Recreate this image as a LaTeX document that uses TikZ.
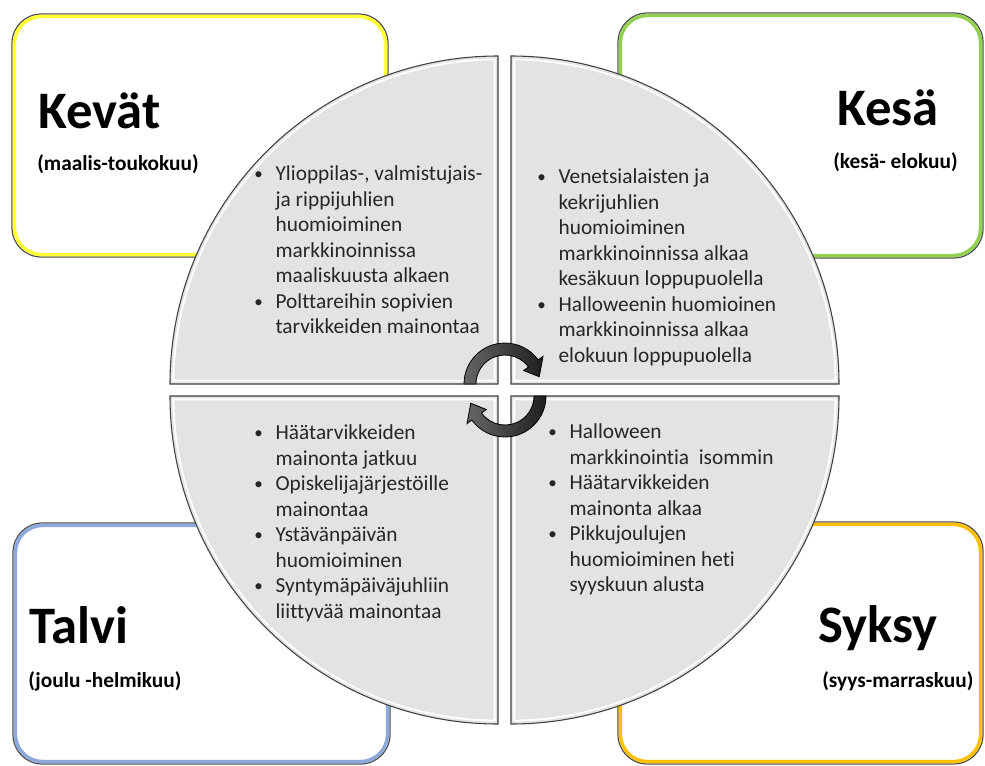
\documentclass[tikz,border=0pt]{standalone}
\usepackage{fontspec}
\setmainfont{Carlito}[Ligatures={NoCommon}]
\usetikzlibrary{calc}

\definecolor{kevatyellow}{HTML}{FFFF33}
\definecolor{kesagreen}{HTML}{92D050}
\definecolor{talviblue}{HTML}{8DA9DB}
\definecolor{syksygold}{HTML}{FFC000}
\definecolor{quartergray}{HTML}{E3E3E3}

% bullet and indent for the item lists
\newcommand\seasonbul{\makebox[16pt][l]{\raisebox{0.8pt}{\scalebox{0.8}{\textbullet}}}}
\newcommand\seasonind{\makebox[16pt]{}}
\newcommand\firstline{\rule{0pt}{14pt}}

\begin{document}
\begin{tikzpicture}[x=0.75pt,y=-0.75pt,
    seasonname/.style={font=\fontsize{39.5}{44}\selectfont\bfseries, inner sep=0, anchor=base west},
    months/.style={font=\fontsize{16}{18}\selectfont\bfseries, inner sep=0, anchor=base west},
    itemlist/.style={font=\fontsize{16}{19.1}\selectfont, text=black!85, inner sep=0,
      anchor=north west, align=left},
    quarter/.style={fill=quartergray},
    cyclearrow/.style={draw=black, line width=0.6pt, left color=black!60, right color=black!88}]
  \useasboundingbox (0,0) rectangle (985,765);
  \clip (0,0) rectangle (985,765);

  % corner boxes: dark rim with the coloured line inside
  \foreach \xa/\ya/\xb/\yb/\col in {12/14/388/257/kevatyellow, 618/13/983/258/kesagreen,
      13/523/390/764/talviblue, 618/522/983/764/syksygold} {
    \fill[white] (\xa,\ya) rectangle (\xb,\yb);
    \draw[black!70, line width=0.9pt, rounded corners=22pt] (\xa,\ya) rectangle (\xb,\yb);
    \draw[\col, line width=2.6pt, rounded corners=20.5pt]
      (\xa+2.4,\ya+2.4) rectangle (\xb-2.4,\yb-2.4);
  }

  \node[seasonname] (kevat) at (38,128) {Kevät};
  \node[months] (kevatkk) at (37,170) {(maalis-toukokuu)};
  \node[seasonname] (kesa) at (837,125) {Kesä};
  \node[months] (kesakk) at (833,168) {(kesä- elokuu)};
  \node[seasonname] (talvi) at (29,643) {Talvi};
  \node[months] (talvikk) at (28,687) {(joulu -helmikuu)};
  \node[seasonname] (syksy) at (818,642) {Syksy};
  \node[months] (syksykk) at (822,687) {(syys-marraskuu)};

  % the four quarters of the year circle
  \foreach \cx/\cy/\a in {498/384/180, 511/384/270, 511/396/0, 498/396/90} {
    \fill[quarter] (\cx,\cy) -- ++(\a:328) arc[start angle=\a, delta angle=90, radius=328] -- cycle;
    \begin{scope}
      \clip (\cx,\cy) -- ++(\a:328) arc[start angle=\a, delta angle=90, radius=328] -- cycle;
      \draw[white, line width=6.5pt] (\cx,\cy) -- ++(\a:328)
        arc[start angle=\a, delta angle=90, radius=328] -- cycle;
      \draw[quartergray, line width=3.6pt] (\cx,\cy) -- ++(\a:328)
        arc[start angle=\a, delta angle=90, radius=328] -- cycle;
    \end{scope}
    \draw[black!75, line width=0.8pt] (\cx,\cy) -- ++(\a:328)
      arc[start angle=\a, delta angle=90, radius=328] -- cycle;
  }

  \node[itemlist] (kevatlist) at (254,162) {%
    \firstline\seasonbul Ylioppilas-, valmistujais-\\
    \seasonind ja rippijuhlien\\
    \seasonind huomioiminen\\
    \seasonind markkinoinnissa\\
    \seasonind maaliskuusta alkaen\\
    \seasonbul Polttareihin sopivien\\
    \seasonind tarvikkeiden mainontaa};
  \node[itemlist] (kesalist) at (537,165) {%
    \firstline\seasonbul Venetsialaisten ja\\
    \seasonind kekrijuhlien\\
    \seasonind huomioiminen\\
    \seasonind markkinoinnissa alkaa\\
    \seasonind kesäkuun loppupuolella\\
    \seasonbul Halloweenin huomioinen\\
    \seasonind markkinoinnissa alkaa\\
    \seasonind elokuun loppupuolella};
  \node[itemlist] (talvilist) at (254,421) {%
    \firstline\seasonbul Häätarvikkeiden\\
    \seasonind mainonta jatkuu\\
    \seasonbul Opiskelijajärjestöille\\
    \seasonind mainontaa\\
    \seasonbul Ystävänpäivän\\
    \seasonind huomioiminen\\
    \seasonbul Syntymäpäiväjuhliin\\
    \seasonind liittyvää mainontaa};
  \node[itemlist] (syksylist) at (548,420) {%
    \firstline\seasonbul Halloween\\
    \seasonind markkinointia\ \ isommin\\
    \seasonbul Häätarvikkeiden\\
    \seasonind mainonta alkaa\\
    \seasonbul Pikkujoulujen\\
    \seasonind huomioiminen heti\\
    \seasonind syyskuun alusta};

  % turning arrows in the middle
  \coordinate (c1) at (505,384);
  \coordinate (c2) at (505,396);
  \draw[cyclearrow] ($(c1)+(180:41)$) arc[start angle=180, end angle=324, radius=41]
    -- ($(c1)+(324:47)$) -- ($(c1)+(348:35)$) -- ($(c1)+(324:23)$) -- ($(c1)+(324:29)$)
    arc[start angle=324, end angle=180, radius=29] -- cycle;
  \draw[cyclearrow] ($(c2)+(0:41)$) arc[start angle=0, end angle=144, radius=41]
    -- ($(c2)+(144:47)$) -- ($(c2)+(168:35)$) -- ($(c2)+(144:23)$) -- ($(c2)+(144:29)$)
    arc[start angle=144, end angle=0, radius=29] -- cycle;
\end{tikzpicture}
\end{document}
